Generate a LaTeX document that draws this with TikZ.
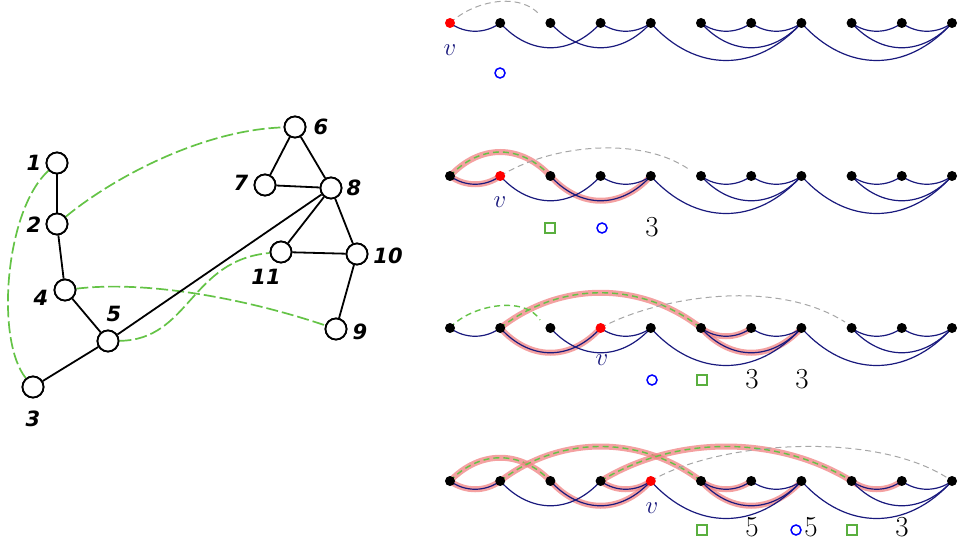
\documentclass[tikz,border=0pt]{standalone}
\usepackage{fontspec}
\newfontfamily\lblfont{DejaVu Sans}
\begin{document}
\begin{tikzpicture}[x=1pt,y=-1pt,
  gnode/.style={circle,draw,line width=1.8pt,fill=white,minimum size=21pt,inner sep=0pt},
  glbl/.style={font=\lblfont\bfseries\itshape\fontsize{21}{21}\selectfont},
  gedge/.style={line width=1.8pt},
  gdash/.style={line width=1.7pt,draw=grn,dash pattern=on 12pt off 4pt},
  dot/.style={circle,fill=black,minimum size=10pt,inner sep=0pt},
  rdot/.style={circle,fill=red,minimum size=10pt,inner sep=0pt},
  barc/.style={draw=navy,line width=1.2pt},
  halo/.style={draw=salmon,line width=6pt,opacity=0.75},
  gup/.style={draw=grn,line width=1.4pt,dash pattern=on 6pt off 4pt},
  grey/.style={draw=gray!70,line width=1pt,dash pattern=on 6pt off 4pt},
  vlbl/.style={text=navy,font=\fontsize{54}{54}\selectfont},
  num/.style={font=\fontsize{29}{29}\selectfont},
  bcirc/.style={circle,draw=blue,line width=1.5pt,minimum size=10pt,inner sep=0pt},
  gsq/.style={rectangle,draw=grn!90!black,line width=1.5pt,minimum size=10pt,inner sep=0pt}]
\definecolor{navy}{RGB}{25,25,125}
\definecolor{salmon}{RGB}{240,130,130}
\definecolor{grn}{RGB}{100,195,70}
\useasboundingbox (0,0) rectangle (960,540);
% left graph
\foreach \n/\x/\y in {1/57/163,2/57/224,4/65/290,5/108/341,3/33/387,6/295/127,7/265/185,8/331/188,11/281/252,10/357/254,9/336/329}
  \node[gnode] (g\n) at (\x,\y) {};
\draw[gdash] (g1) .. controls (5,210) and (-5,340) .. (g3);
\draw[gdash] (g2) .. controls (110,180) and (200,130) .. (g6);
\draw[gdash] (g4) .. controls (150,280) and (250,300) .. (g9);
\draw[gdash] (g5) .. controls (190,340) and (190,260) .. (g11);
\foreach \a/\b in {1/2,2/4,4/5,5/3,5/8,6/7,6/8,7/8,8/11,8/10,11/10,10/9}
  \draw[gedge] (g\a) -- (g\b);
\foreach \n/\x/\y in {1/57/163,2/57/224,4/65/290,5/108/341,3/33/387,6/295/127,7/265/185,8/331/188,11/281/252,10/357/254,9/336/329}
  \node[gnode] at (\x,\y) {};
\node[glbl] (l1) at (34,163) {1};
\node[glbl] (l2) at (34,225) {2};
\node[glbl] (l4) at (41,298) {4};
\node[glbl] (l5) at (114,314) {5};
\node[glbl] (l3) at (33,419) {3};
\node[glbl] (l6) at (321,127) {6};
\node[glbl] (l7) at (241,183) {7};
\node[glbl] (l8) at (354,188) {8};
\node[glbl] (l11) at (266,277) {11};
\node[glbl] (l10) at (388,256) {10};
\node[glbl] (l9) at (360,332) {9};
% rows
\foreach \r/\y in {1/23,2/176,3/328,4/481}
  \foreach \i in {0,...,10}
    \coordinate (r\r n\i) at (450+50.2*\i,\y);
% halos (lower, below blue)
\foreach \a/\b/\c/\w/\h in {2/0/1/15/11, 2/2/4/30/33,
   3/1/3/30/33, 3/5/6/15/11, 3/5/7/30/33,
   4/0/1/15/11, 4/2/4/30/33, 4/3/4/15/11, 4/5/6/15/11, 4/5/7/30/33, 4/8/9/15/11}
  \draw[halo] (r\a n\b) .. controls +(\w,\h) and +(-\w,\h) .. (r\a n\c);
\foreach \r in {1,2,3,4}{
  \foreach \a/\b/\w/\h in {0/1/15/11,1/3/30/33,2/4/30/33,3/4/15/11,4/7/45/50,5/6/15/11,6/7/15/11,5/7/30/33,7/10/45/50,8/9/15/11,9/10/15/11,8/10/30/33}
    \draw[barc] (r\r n\a) .. controls +(\w,\h) and +(-\w,\h) .. (r\r n\b);
}
% upper highlighted arcs
\foreach \a/\b/\c/\w/\h in {2/0/2/30/-32, 3/1/5/60/-47, 4/0/2/30/-31, 4/1/5/60/-46, 4/3/8/75/-46}{
  \draw[halo] (r\a n\b) .. controls +(\w,\h) and +(-\w,\h) .. (r\a n\c);
  \draw[gup] (r\a n\b) .. controls +(\w,\h) and +(-\w,\h) .. (r\a n\c);
}
% grey partial arcs
\coordinate (e1) at (540,15);
\coordinate (e2) at (690,170);
\coordinate (e3) at (845,322);
\coordinate (e3g) at (540,320);
\draw[grey] (r1n0) .. controls (475,0) and (520,-8) .. (e1);
\draw[grey] (r2n1) .. controls (550,145) and (640,135) .. (e2);
\draw[grey] (r3n3) .. controls (650,300) and (770,275) .. (e3);
\draw[grey] (r4n4) .. controls (720,440) and (880,430) .. (r4n10);
\draw[gup] (r3n0) .. controls (470,305) and (525,295) .. (e3g);
% dots
\foreach \r/\v in {1/0,2/1,3/3,4/4}
  \foreach \i in {0,...,10}{
    \ifnum\i=\v \node[rdot] at (r\r n\i) {}; \else \node[dot] at (r\r n\i) {}; \fi
  }
% labels
\node[vlbl] (v1) at (450,50) {$v$};
\node[vlbl] (v2) at (500,202) {$v$};
\node[vlbl] (v3) at (602,360) {$v$};
\node[vlbl] (v4) at (652,508) {$v$};
\node[bcirc] (m1) at (500,73) {};
\node[gsq] (m2a) at (550,228) {};
\node[bcirc] (m2b) at (602,228) {};
\node[num] (m2c) at (652,227) {3};
\node[bcirc] (m3a) at (652,380) {};
\node[gsq] (m3b) at (702,380) {};
\node[num] (m3c) at (752,379) {3};
\node[num] (m3d) at (802,379) {3};
\node[gsq] (m4a) at (702,530) {};
\node[num] (m4b) at (752,527) {5};
\node[bcirc] (m4c) at (796,530) {};
\node[num] (m4d) at (811,527) {5};
\node[gsq] (m4e) at (852,530) {};
\node[num] (m4f) at (902,527) {3};
\end{tikzpicture}
\end{document}
